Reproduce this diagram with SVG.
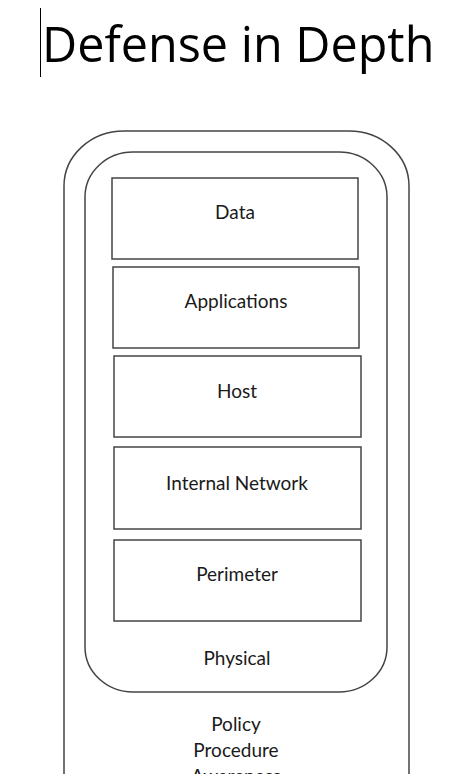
<svg xmlns="http://www.w3.org/2000/svg" width="457" height="774" viewBox="0 0 457 774">
<style>
.shape{fill:#fff;stroke:#444;stroke-width:1.5}
.lbl{font-family:Lato,"Open Sans",sans-serif;font-size:19px;fill:#1a1a1a;text-anchor:middle}
.title{font-family:"Open Sans",Lato,sans-serif;font-size:48.5px;fill:#000}
</style>
<rect width="457" height="774" fill="#fff"/>
<line x1="40.5" y1="8" x2="40.5" y2="77" stroke="#000" stroke-width="1"/>
<text class="title" x="42" y="62">Defense in Depth</text>
<g id="policy">
<rect class="shape" x="64" y="131" width="345" height="700" rx="60" ry="55"/>
<text class="lbl" x="236" y="731">Policy</text>
<text class="lbl" x="236" y="757">Procedure</text>
<text class="lbl" x="236" y="783">Awareness</text>
</g>
<g id="physical">
<rect class="shape" x="85" y="152" width="302" height="540" rx="48" ry="45"/>
<text class="lbl" x="237" y="665">Physical</text>
</g>
<g id="data">
<rect class="shape" x="112" y="178" width="246" height="81"/>
<text class="lbl" x="235" y="219">Data</text>
</g>
<g id="applications">
<rect class="shape" x="113" y="267" width="246" height="81"/>
<text class="lbl" x="236" y="308">Applications</text>
</g>
<g id="host">
<rect class="shape" x="114" y="356" width="247" height="81"/>
<text class="lbl" x="237" y="398">Host</text>
</g>
<g id="internal">
<rect class="shape" x="114" y="447" width="247" height="82"/>
<text class="lbl" x="237" y="490">Internal Network</text>
</g>
<g id="perimeter">
<rect class="shape" x="114" y="540" width="247" height="81"/>
<text class="lbl" x="237" y="581">Perimeter</text>
</g>
<g id="connectors"/>
</svg>
